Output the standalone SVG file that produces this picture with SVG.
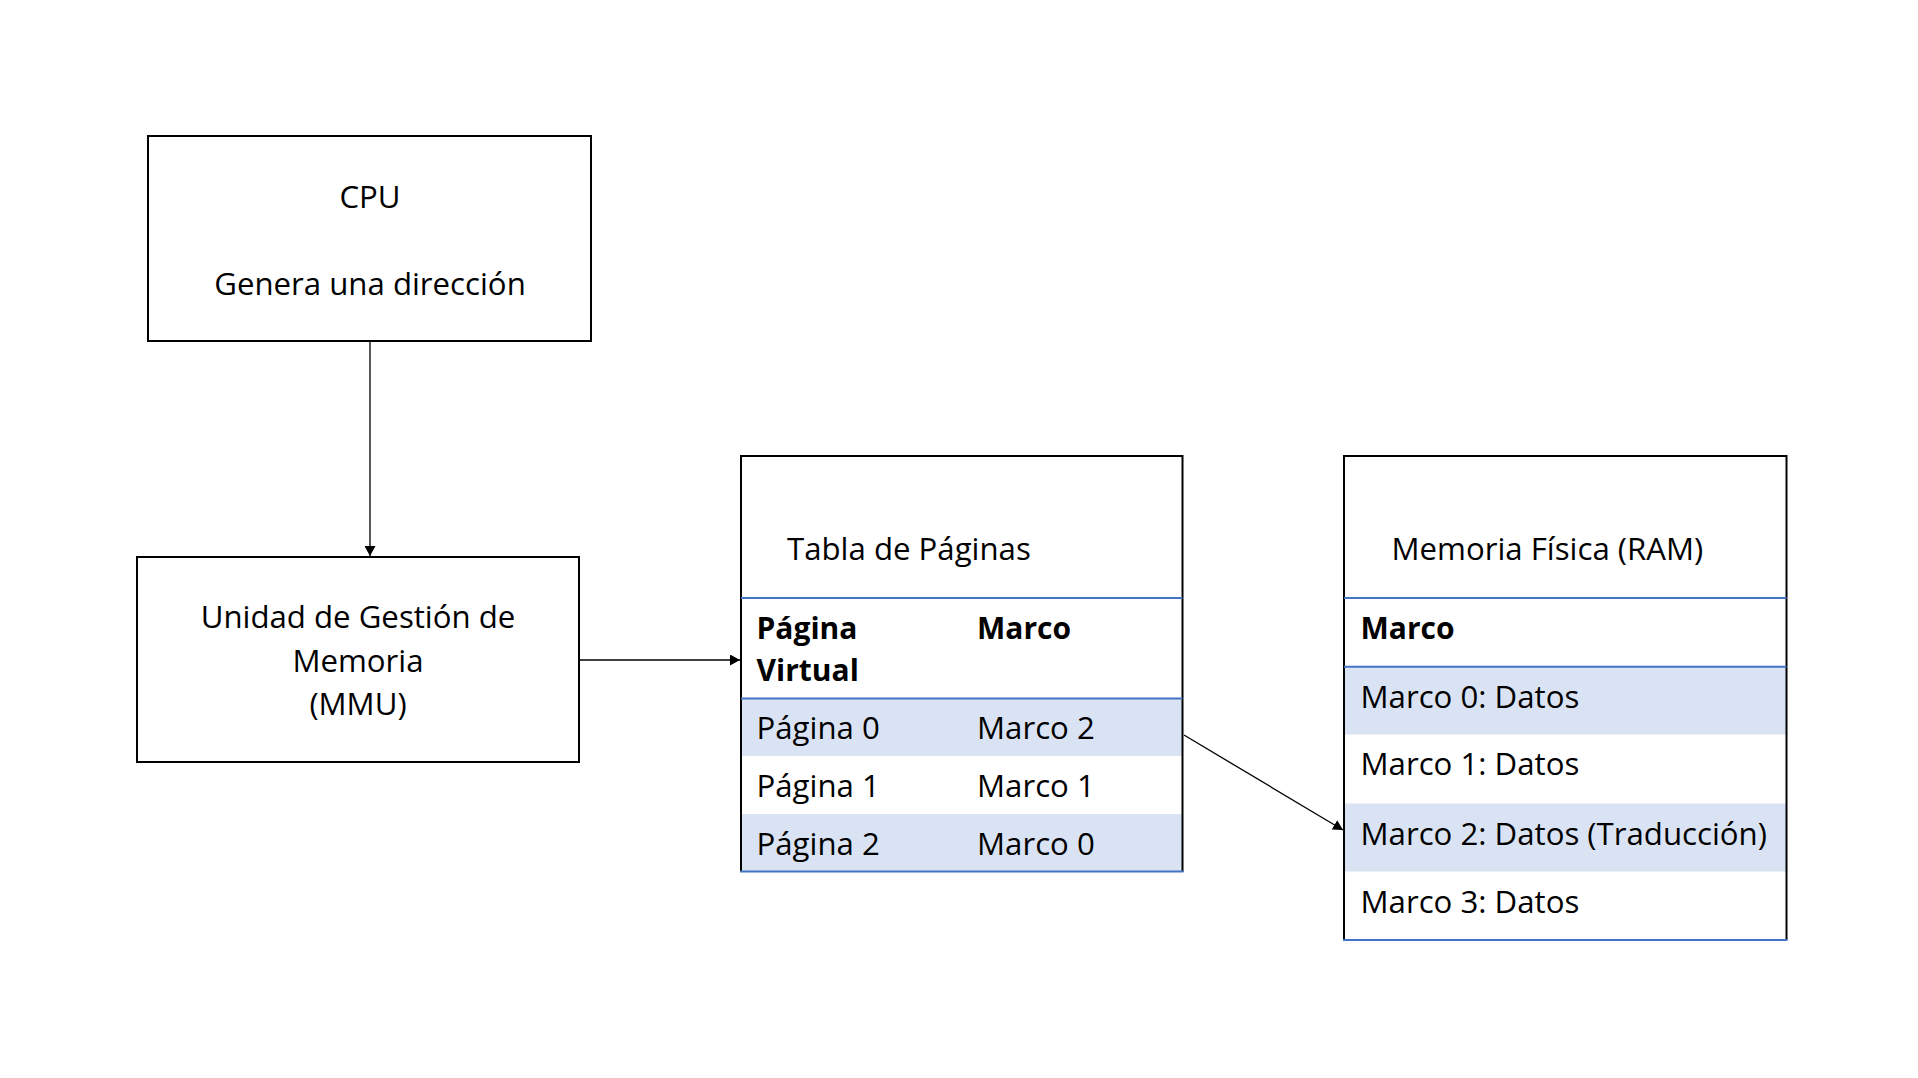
<svg xmlns="http://www.w3.org/2000/svg" width="1918" height="1078" viewBox="0 0 1918 1078">
<defs>
<style>
.t{font-family:"Open Sans","Liberation Sans",sans-serif;font-size:31.2px;fill:#000}
.b{font-weight:bold;font-size:30px}
.m{text-anchor:middle}
.box{fill:#fff;stroke:#000;stroke-width:2}
.edge{fill:none;stroke:#000;stroke-width:2}
.blue{stroke:#4472C4;stroke-width:2;fill:none}
.shade{fill:#DAE3F3}
.conn{stroke:#000;stroke-width:1.3;fill:none}
</style>
<marker id="arr" markerUnits="userSpaceOnUse" markerWidth="11" markerHeight="11" refX="10" refY="5.5" orient="auto">
<path d="M0,0 L10,5.5 L0,11 z" fill="#000"/>
</marker>
</defs>
<rect width="1918" height="1078" fill="#fff"/>
<g id="cpu">
<rect class="box" x="148" y="136" width="443" height="205"/>
<text class="t m" x="370" y="208">CPU</text>
<text class="t m" x="370" y="294.5">Genera una dirección</text>
</g>
<g id="mmu">
<rect class="box" x="137" y="557" width="442" height="205"/>
<text class="t m" x="358" y="628">Unidad de Gestión de</text>
<text class="t m" x="358" y="671.5">Memoria</text>
<text class="t m" x="358" y="714.5">(MMU)</text>
</g>
<g id="tabla">
<rect x="741" y="456" width="442" height="416" fill="#fff"/>
<rect class="shade" x="742" y="699" width="440" height="57"/>
<rect class="shade" x="742" y="814" width="440" height="57"/>
<path class="edge" d="M741,872 V456 H1182.5 V872"/>
<line class="blue" x1="741" y1="598" x2="1182.5" y2="598"/>
<line class="blue" x1="741" y1="698.5" x2="1182.5" y2="698.5"/>
<line class="blue" x1="740" y1="871.5" x2="1183.5" y2="871.5"/>
<text class="t" x="787" y="559.5">Tabla de Páginas</text>
<text class="t b" x="756.5" y="638.5">Página</text>
<text class="t b" x="756.5" y="681">Virtual</text>
<text class="t b" x="977" y="638.5">Marco</text>
<text class="t" x="756.5" y="738.5">Página 0</text>
<text class="t" x="977" y="738.5">Marco 2</text>
<text class="t" x="756.5" y="797">Página 1</text>
<text class="t" x="977" y="797">Marco 1</text>
<text class="t" x="756.5" y="854.5">Página 2</text>
<text class="t" x="977" y="854.5">Marco 0</text>
</g>
<g id="ram">
<rect x="1344" y="456" width="443" height="484" fill="#fff"/>
<rect class="shade" x="1345" y="667" width="441" height="67.5"/>
<rect class="shade" x="1345" y="803.5" width="441" height="68"/>
<path class="edge" d="M1344,940 V456 H1786.5 V940"/>
<line class="blue" x1="1344" y1="598" x2="1786.5" y2="598"/>
<line class="blue" x1="1344" y1="666.7" x2="1786.5" y2="666.7"/>
<line class="blue" x1="1343" y1="940" x2="1787.5" y2="940"/>
<text class="t" x="1391.5" y="559.5">Memoria Física (RAM)</text>
<text class="t b" x="1360.5" y="638.5">Marco</text>
<text class="t" x="1360.5" y="707.5">Marco 0: Datos</text>
<text class="t" x="1360.5" y="775">Marco 1: Datos</text>
<text class="t" x="1360.5" y="844.5">Marco 2: Datos (Traducción)</text>
<text class="t" x="1360.5" y="912.5">Marco 3: Datos</text>
</g>
<g id="connectors">
<line class="conn" x1="370" y1="342" x2="370" y2="556" marker-end="url(#arr)"/>
<line class="conn" x1="580" y1="660" x2="740" y2="660" marker-end="url(#arr)"/>
<line class="conn" x1="1184" y1="735" x2="1343" y2="830" marker-end="url(#arr)"/>
</g>
</svg>
